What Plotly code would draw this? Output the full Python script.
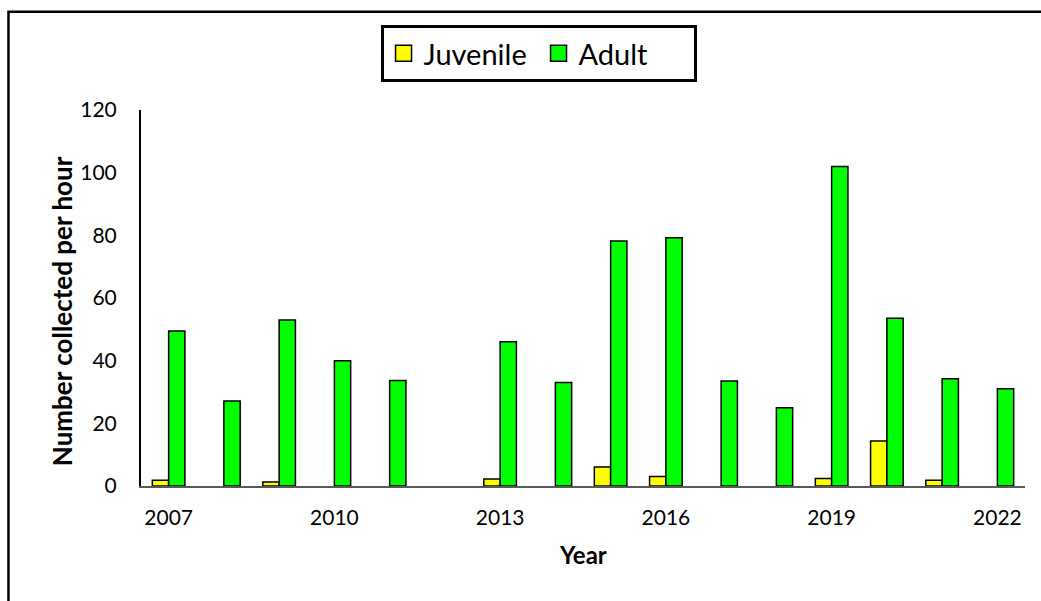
import plotly.graph_objects as go

# Survey years and catch rates (number collected per hour); None = nothing collected
years = [str(y) for y in range(2007, 2023)]
juvenile = [1.8, None, 1.3, None, None, None, 2.2, None, 6.1, 3.0, None, None, 2.4, 14.4, 1.8, None]
adult = [49.5, 27.1, 53.0, 40.0, 33.7, None, 46.0, 33.0, 78.2, 79.2, 33.5, 25.0, 102.0, 53.5, 34.2, 31.0]
tick_years = ["2007", "2010", "2013", "2016", "2019", "2022"]

FONT = "Lato, Calibri, 'Open Sans', sans-serif"
JUV_COLOR = "#FFFF00"
ADULT_COLOR = "#00FF00"

fig = go.Figure()
fig.add_trace(go.Bar(
    x=years, y=juvenile, name="Juvenile", showlegend=False,
    marker=dict(color=JUV_COLOR, line=dict(color="black", width=1.5)),
))
fig.add_trace(go.Bar(
    x=years, y=adult, name="Adult", showlegend=False,
    marker=dict(color=ADULT_COLOR, line=dict(color="black", width=1.5)),
))

# Legend entries with larger square swatches
for name, color in [("Juvenile", JUV_COLOR), ("Adult", ADULT_COLOR)]:
    fig.add_trace(go.Scatter(
        x=[None], y=[None], mode="markers", name=name,
        marker=dict(symbol="square", size=16, color=color,
                    line=dict(color="black", width=1.5)),
    ))

fig.update_layout(
    width=1041, height=601,
    margin=dict(l=141, r=16, t=110, b=114.5),
    paper_bgcolor="white", plot_bgcolor="white",
    barmode="group", bargap=0.41, bargroupgap=0,
    font=dict(family=FONT, size=21, color="black"),
    showlegend=True,
    legend=dict(
        orientation="h", x=0.4497, xanchor="center", y=1.226, yanchor="top",
        bordercolor="black", borderwidth=3, bgcolor="white",
        font=dict(family=FONT, size=29, color="black"),
        itemsizing="trace", itemwidth=30, tracegroupgap=0,
        entrywidth=110, entrywidthmode="pixels",
    ),
    xaxis=dict(
        type="category", tickmode="array", tickvals=tick_years, ticktext=tick_years,
        showline=True, linecolor="#595959", linewidth=2, ticks="",
        showgrid=False, ticklabelstandoff=12, fixedrange=True,
    ),
    yaxis=dict(
        range=[0, 120], dtick=20, showline=True, linecolor="black", linewidth=2,
        ticks="", showgrid=False, zeroline=False, ticklabelstandoff=18,
    ),
    annotations=[
        dict(text="<b>Number collected per hour</b>", xref="paper", yref="paper",
             x=-0.0894, y=0.465, xanchor="center", yanchor="middle",
             textangle=-90, showarrow=False,
             font=dict(family=FONT, size=26, color="black")),
        dict(text="<b>Year</b>", xref="paper", yref="paper",
             x=0.5, y=-0.182, xanchor="center", yanchor="middle", showarrow=False,
             font=dict(family=FONT, size=24, color="black")),
    ],
    shapes=[
        # outer frame around the chart
        dict(type="rect", xref="paper", yref="paper",
             x0=-0.1499, y0=-0.5, x1=1.1, y1=1.2614,
             line=dict(color="black", width=2.5), fillcolor="rgba(0,0,0,0)",
             layer="below"),
    ],
)

fig.write_html("out.html")
